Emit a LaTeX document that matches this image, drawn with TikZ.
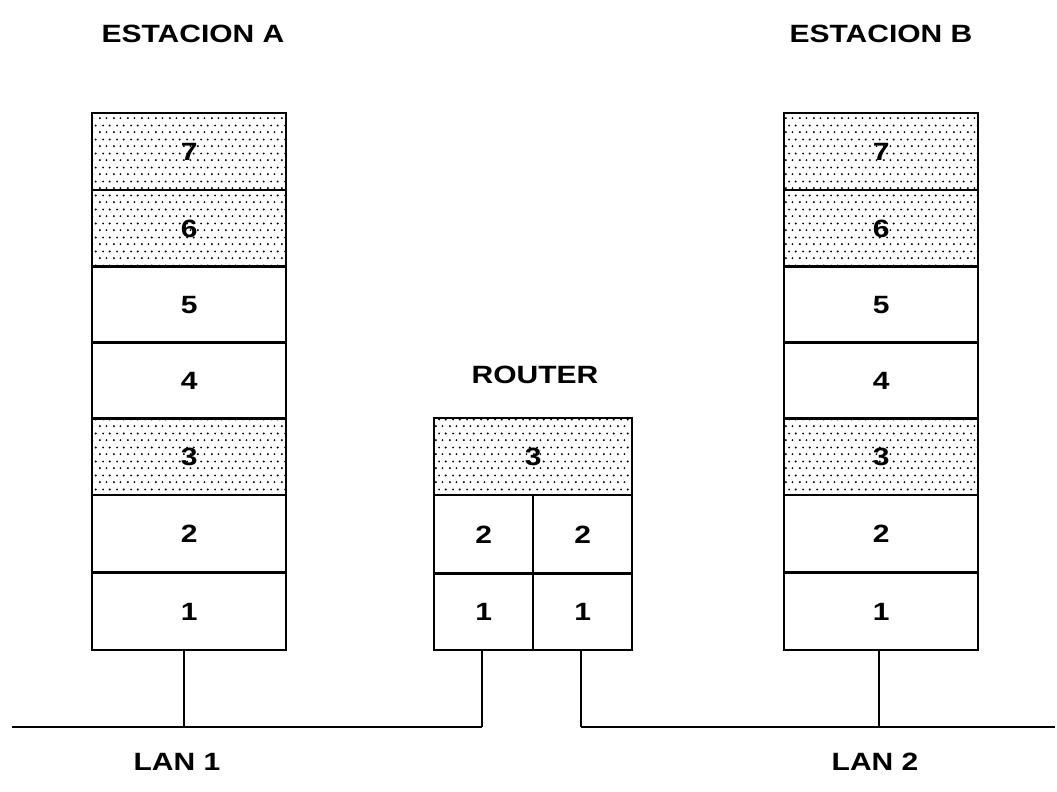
\documentclass[tikz,border=0pt]{standalone}
\usepackage{fontspec}
\usepackage{graphicx}
\setmainfont{Liberation Sans}
\usetikzlibrary{patterns.meta}
\tikzdeclarepattern{
  name=stipple,
  type=uncolored,
  bounding box={(0,0) and (14pt,14pt)},
  tile size={(14pt,14pt)},
  code={
    \fill (2pt,2pt) circle (1.1pt);
    \fill (9pt,2pt) circle (1.1pt);
    \fill (5.5pt,9pt) circle (1.1pt);
    \fill (12.5pt,9pt) circle (1.1pt);
  }
}
\newcommand\wtxt[1]{\scalebox{1.2}[1]{#1}}
\begin{document}
\begin{tikzpicture}[x=1pt,y=-1pt,
  layer/.style={draw=black, line width=2.2pt, minimum width=194pt, minimum height=77pt, inner sep=0pt, font=\bfseries\fontsize{25}{25}\selectfont, anchor=north west},
  shaded/.style={pattern={stipple}, pattern color=black},
  half/.style={layer, minimum width=99pt},
  wide/.style={layer, minimum width=198pt},
  lbl/.style={font=\bfseries\fontsize{25}{25}\selectfont, inner sep=0pt},
  wire/.style={line width=1.8pt},
  bus/.style={line width=2.6pt}
]
\useasboundingbox (0,0) rectangle (1057,792);
% Station A
\node[layer,shaded] (a7) at (91,112) {\wtxt{7}};
\node[layer,shaded] (a6) at (91,189) {\wtxt{6}};
\node[layer] (a5) at (91,265) {\wtxt{5}};
\node[layer] (a4) at (91,341) {\wtxt{4}};
\node[layer,shaded] (a3) at (91,417) {\wtxt{3}};
\node[layer] (a2) at (91,494) {\wtxt{2}};
\node[layer] (a1) at (91,572) {\wtxt{1}};
% Station B
\node[layer,shaded] (b7) at (783,112) {\wtxt{7}};
\node[layer,shaded] (b6) at (783,189) {\wtxt{6}};
\node[layer] (b5) at (783,265) {\wtxt{5}};
\node[layer] (b4) at (783,341) {\wtxt{4}};
\node[layer,shaded] (b3) at (783,417) {\wtxt{3}};
\node[layer] (b2) at (783,494) {\wtxt{2}};
\node[layer] (b1) at (783,572) {\wtxt{1}};
% Router
\node[wide,shaded,minimum height=77pt] (r3) at (433,417) {\wtxt{3}};
\node[half,minimum height=79pt] (r2l) at (433,494) {\wtxt{2}};
\node[half,minimum height=79pt] (r2r) at (532,494) {\wtxt{2}};
\node[half] (r1l) at (433,572) {\wtxt{1}};
\node[half] (r1r) at (532,572) {\wtxt{1}};
% Labels
\node[lbl] (ta) at (193,34) {\wtxt{ESTACION A}};
\node[lbl] (tb) at (881,34) {\wtxt{ESTACION B}};
\node[lbl] (tr) at (535,375) {\wtxt{ROUTER}};
\node[lbl] (l1) at (177,762) {\wtxt{LAN 1}};
\node[lbl] (l2) at (875,762) {\wtxt{LAN 2}};
% LAN wiring
\coordinate (lanAstart) at (12,727);
\coordinate (lanBend) at (1055,727);
\coordinate (ja) at (184,727);
\coordinate (jr1) at (482,727);
\coordinate (jr2) at (581,727);
\coordinate (jb) at (879,727);
\draw[wire] (a1.south -| ja) -- (ja);
\draw[wire] (r1l.south -| jr1) -- (jr1);
\draw[wire] (r1r.south -| jr2) -- (jr2);
\draw[wire] (b1.south -| jb) -- (jb);
\draw[bus] (lanAstart) -- (jr1);
\draw[bus] (jr2) -- (lanBend);
\end{tikzpicture}
\end{document}
